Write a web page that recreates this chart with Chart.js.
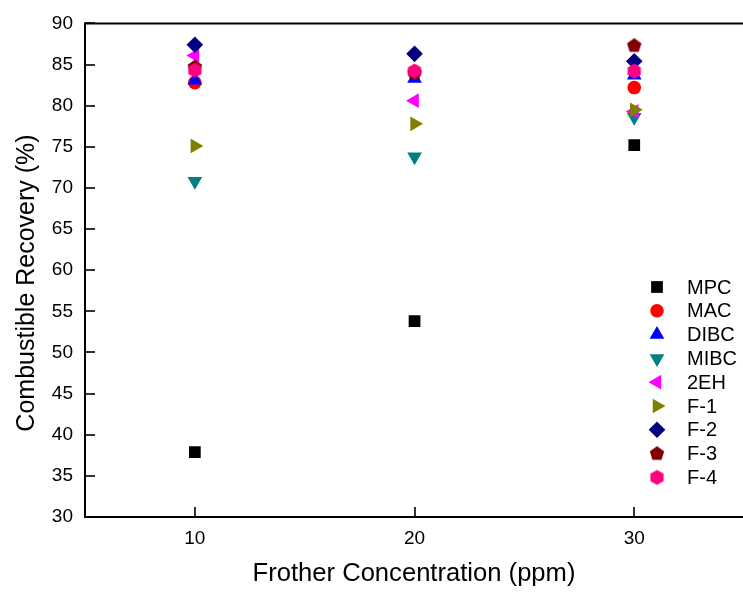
<!DOCTYPE html>
<html>
<head>
<meta charset="utf-8">
<script src="https://cdn.jsdelivr.net/npm/chart.js@4/dist/chart.umd.min.js"></script>
<style>
  html, body { margin: 0; padding: 0; background: #fff; overflow: hidden; }
</style>
</head>
<body>
<canvas id="chart" width="743" height="593"></canvas>
<script>
// frother dosage (ppm) on x, combustible recovery (%) on y
const concentrations = [10, 20, 30];
const xTicks = [10, 20, 30];
const yTicks = [30, 35, 40, 45, 50, 55, 60, 65, 70, 75, 80, 85, 90];

const frothers = ['MPC', 'MAC', 'DIBC', 'MIBC', '2EH', 'F-1', 'F-2', 'F-3', 'F-4'];
const mpc  = [37.9, 53.8, 75.2];
const mac  = [82.8, 84.0, 82.2];
const dibc = [83.1, 83.3, 83.7];
const mibc = [70.8, 73.8, 78.6];
const eh2  = [86.1, 80.6, 79.3];
const f1   = [75.1, 77.8, 79.5];
const f2   = [87.4, 86.3, 85.4];
const f3   = [84.7, 84.0, 87.3];
const f4   = [84.3, 84.2, 84.2];
const recovery = [mpc, mac, dibc, mibc, eh2, f1, f2, f3, f4];

const colors = ['#000000', '#ff0000', '#0000ff', '#008080', '#ff00ff', '#808000', '#000080', '#800000', '#ff0080'];

const FONT = "'Liberation Sans', Arial, sans-serif";

// pentagon / hexagon are not built in, draw them onto small canvases
function polygonImage(sides, r, color) {
  const c = document.createElement('canvas');
  c.width = 20; c.height = 20;
  const g = c.getContext('2d');
  g.fillStyle = color;
  g.beginPath();
  for (let i = 0; i < sides; i++) {
    const a = -Math.PI / 2 + i * 2 * Math.PI / sides;
    const px = 10 + Math.cos(a) * r, py = 10 + Math.sin(a) * r;
    if (i === 0) g.moveTo(px, py); else g.lineTo(px, py);
  }
  g.closePath();
  g.fill();
  return c;
}

const markers = [
  { style: 'rect', radius: 8.3, rotation: 0 },
  { style: 'circle', radius: 6.8, rotation: 0 },
  { style: 'triangle', radius: 8.5, rotation: 0 },
  { style: 'triangle', radius: 8.5, rotation: 180 },
  { style: 'triangle', radius: 8.5, rotation: 270 },
  { style: 'triangle', radius: 8.5, rotation: 90 },
  { style: 'rectRot', radius: 8.3, rotation: 0 },
  { style: polygonImage(5, 7.6, colors[7]), radius: 8, rotation: 0 },
  { style: polygonImage(6, 7.6, colors[8]), radius: 8, rotation: 0 }
];

const datasets = frothers.map((name, i) => ({
  label: name,
  data: concentrations.map((x, j) => ({ x: x, y: recovery[i][j] })),
  showLine: false,
  pointStyle: markers[i].style,
  pointRadius: markers[i].radius,
  pointRotation: markers[i].rotation,
  pointBorderWidth: 0,
  backgroundColor: colors[i],
  borderColor: colors[i],
  order: frothers.length - i
}));

// frame (right side runs off the page), inward ticks, y title and the legend inside the plot
const framePlugin = {
  id: 'frame',
  beforeDatasetsDraw(chart) {
    const ctx = chart.ctx;
    const a = chart.chartArea;
    const xs = chart.scales.x, ys = chart.scales.y;
    ctx.save();
    ctx.strokeStyle = '#000';
    ctx.lineWidth = 1.6;
    xTicks.forEach(v => {
      const px = Math.round(xs.getPixelForValue(v));
      ctx.beginPath();
      ctx.moveTo(px, a.bottom);
      ctx.lineTo(px, a.bottom - 10);
      ctx.stroke();
    });
    yTicks.forEach(v => {
      const py = Math.round(ys.getPixelForValue(v));
      ctx.beginPath();
      ctx.moveTo(a.left, py);
      ctx.lineTo(a.left + 10, py);
      ctx.stroke();
    });
    ctx.lineWidth = 2;
    ctx.beginPath();
    ctx.moveTo(chart.width, a.top);
    ctx.lineTo(a.left, a.top);
    ctx.lineTo(a.left, a.bottom);
    ctx.lineTo(chart.width, a.bottom);
    ctx.stroke();

    // y title sits a little below the middle of the axis
    ctx.translate(27, 283);
    ctx.rotate(-Math.PI / 2);
    ctx.font = '25px ' + FONT;
    ctx.fillStyle = '#000';
    ctx.textAlign = 'center';
    ctx.textBaseline = 'middle';
    ctx.fillText('Combustible Recovery (%)', 0, 0);
    ctx.restore();
  },
  afterDraw(chart) {
    const ctx = chart.ctx;
    const lx = 657, ly = 287, step = 23.8;
    ctx.save();
    ctx.font = '20px ' + FONT;
    ctx.textBaseline = 'middle';
    ctx.textAlign = 'left';
    frothers.forEach((name, i) => {
      const y = ly + i * step;
      ctx.fillStyle = colors[i];
      Chart.helpers.drawPoint(ctx, {
        pointStyle: markers[i].style,
        rotation: markers[i].rotation,
        radius: markers[i].radius,
        borderWidth: 0
      }, lx, y);
      ctx.fillStyle = '#000';
      ctx.fillText(name, 687, y + 1);
    });
    ctx.restore();
  }
};

new Chart(document.getElementById('chart'), {
  type: 'scatter',
  data: { datasets: datasets },
  options: {
    responsive: false,
    animation: false,
    events: [],
    layout: { autoPadding: false, padding: { top: 22, right: 0, left: 0, bottom: 0 } },
    plugins: { legend: { display: false }, tooltip: { enabled: false } },
    scales: {
      x: {
        type: 'linear',
        min: 5,
        max: 34.95,
        afterFit: s => { s.height = 76; },
        afterBuildTicks: s => { s.ticks = xTicks.map(v => ({ value: v })); },
        grid: { display: false, drawTicks: false },
        border: { display: false },
        ticks: { color: '#000', padding: 10, font: { family: FONT, size: 19 } },
        title: {
          display: true,
          text: 'Frother Concentration (ppm)',
          color: '#000',
          padding: { top: 0, bottom: 4 },
          font: { family: FONT, size: 25.6 }
        }
      },
      y: {
        min: 30,
        max: 90,
        afterFit: s => { s.width = 85; },
        afterBuildTicks: s => { s.ticks = yTicks.map(v => ({ value: v })); },
        grid: { display: false, drawTicks: false },
        border: { display: false },
        ticks: { color: '#000', padding: 12, font: { family: FONT, size: 19 } },
        title: { display: false }
      }
    }
  },
  plugins: [framePlugin]
});
</script>
</body>
</html>
